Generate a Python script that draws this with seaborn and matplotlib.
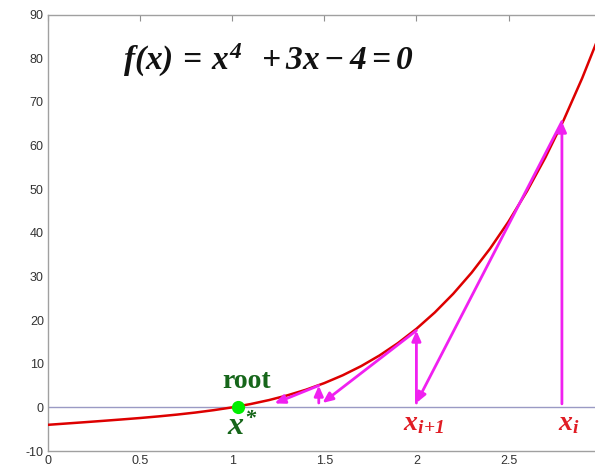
import matplotlib
matplotlib.use("Agg")
import matplotlib.pyplot as plt
import seaborn as sns
import pandas as pd

# Sampled curve f(x) = x^4 + 3x - 4
curve_x = [0.0, 0.1, 0.2, 0.3, 0.4, 0.5, 0.6, 0.7, 0.8, 0.9, 1.0,
           1.1, 1.2, 1.3, 1.4, 1.5, 1.6, 1.7, 1.8, 1.9, 2.0,
           2.1, 2.2, 2.3, 2.4, 2.5, 2.6, 2.7, 2.8, 2.9, 3.0]
curve_y = [-4.0, -3.7, -3.4, -3.09, -2.77, -2.44, -2.07, -1.66, -1.19, -0.64, 0.0,
           0.76, 1.67, 2.76, 4.04, 5.56, 7.35, 9.45, 11.9, 14.73, 18.0,
           21.75, 26.03, 30.88, 36.38, 42.56, 49.5, 57.24, 65.87, 75.43, 86.0]

# Newton iteration steps: (start x, start y, end x, end y)
step_x0 = [2.79, 2.79, 2.0, 2.0, 1.47, 1.47]
step_y0 = [0.8, 65.5, 1.0, 17.6, 1.0, 5.0]
step_x1 = [2.79, 2.0, 2.0, 1.49, 1.47, 1.23]
step_y1 = [65.5, 1.0, 17.6, 1.0, 5.0, 0.9]

root_x = [1.03]
root_y = [0.0]

x_ticks = [0, 0.5, 1, 1.5, 2, 2.5]
x_tick_labels = ["0", "0.5", "1", "1.5", "2", "2.5"]
y_ticks = [-10, 0, 10, 20, 30, 40, 50, 60, 70, 80, 90]

sns.set_style("white")
plt.rcParams["font.family"] = ["Liberation Sans", "DejaVu Sans"]
plt.rcParams["axes.unicode_minus"] = False
plt.rcParams["mathtext.fontset"] = "custom"
plt.rcParams["mathtext.rm"] = "Liberation Serif:italic:bold"
plt.rcParams["mathtext.it"] = "Liberation Serif:italic:bold"
plt.rcParams["mathtext.bf"] = "Liberation Serif:italic:bold"

fig = plt.figure(figsize=(5.95, 4.69), dpi=100)
ax = fig.add_axes([48 / 595, 18 / 469, 552.6 / 595, 436.4 / 469])

ax.axhline(0, color="#9a9ac4", lw=1.0, zorder=1)

df = pd.DataFrame({"x": curve_x, "y": curve_y})
sns.lineplot(data=df, x="x", y="y", ax=ax, color="#dd0000", lw=1.8, zorder=3)

for x0, y0, x1, y1 in zip(step_x0, step_y0, step_x1, step_y1):
    ax.annotate("", xy=(x1, y1), xytext=(x0, y0),
                arrowprops=dict(arrowstyle="-|>,head_length=0.5,head_width=0.22",
                                color="#f020f0", lw=2.0,
                                mutation_scale=12, shrinkA=0, shrinkB=0),
                zorder=4)

sns.scatterplot(x=root_x, y=root_y, ax=ax, color="#00ee00", s=90,
                edgecolor="#00ee00", linewidth=0, zorder=5)

ax.text(1.08, 4.4, "root", family="Liberation Serif", weight="bold",
        fontsize=20, color="#16661a", ha="center", va="baseline")
ax.text(0.97, -6.3, r"$x^{*}$", fontsize=23, color="#16661a",
        ha="left", va="baseline")
ax.text(1.925, -5.2, r"$x_{i\!+\!1}$", fontsize=20, color="#e01c24",
        ha="left", va="baseline")
ax.text(2.768, -5.2, r"$x_{i}$", fontsize=20, color="#e01c24",
        ha="left", va="baseline")
ax.text(0.405, 77.3, r"$f(x)\,=\,x^{4}\;\;+3x-4=0$", fontsize=24,
        color="#111111", ha="left", va="baseline")

ax.set_xlim(0, 3)
ax.set_ylim(-10, 90)
ax.set_xticks(x_ticks)
ax.set_xticklabels(x_tick_labels)
ax.set_yticks(y_ticks)
ax.set_xlabel("")
ax.set_ylabel("")

for side in ["left", "bottom", "top"]:
    ax.spines[side].set_color("#a0a0a0")
    ax.spines[side].set_linewidth(1.0)
ax.spines["right"].set_visible(False)
ax.tick_params(axis="both", direction="in", length=4, width=0.8,
               color="#909090", labelsize=9, labelcolor="#333333",
               top=True, pad=3)

fig.savefig("out.png", dpi=100)
